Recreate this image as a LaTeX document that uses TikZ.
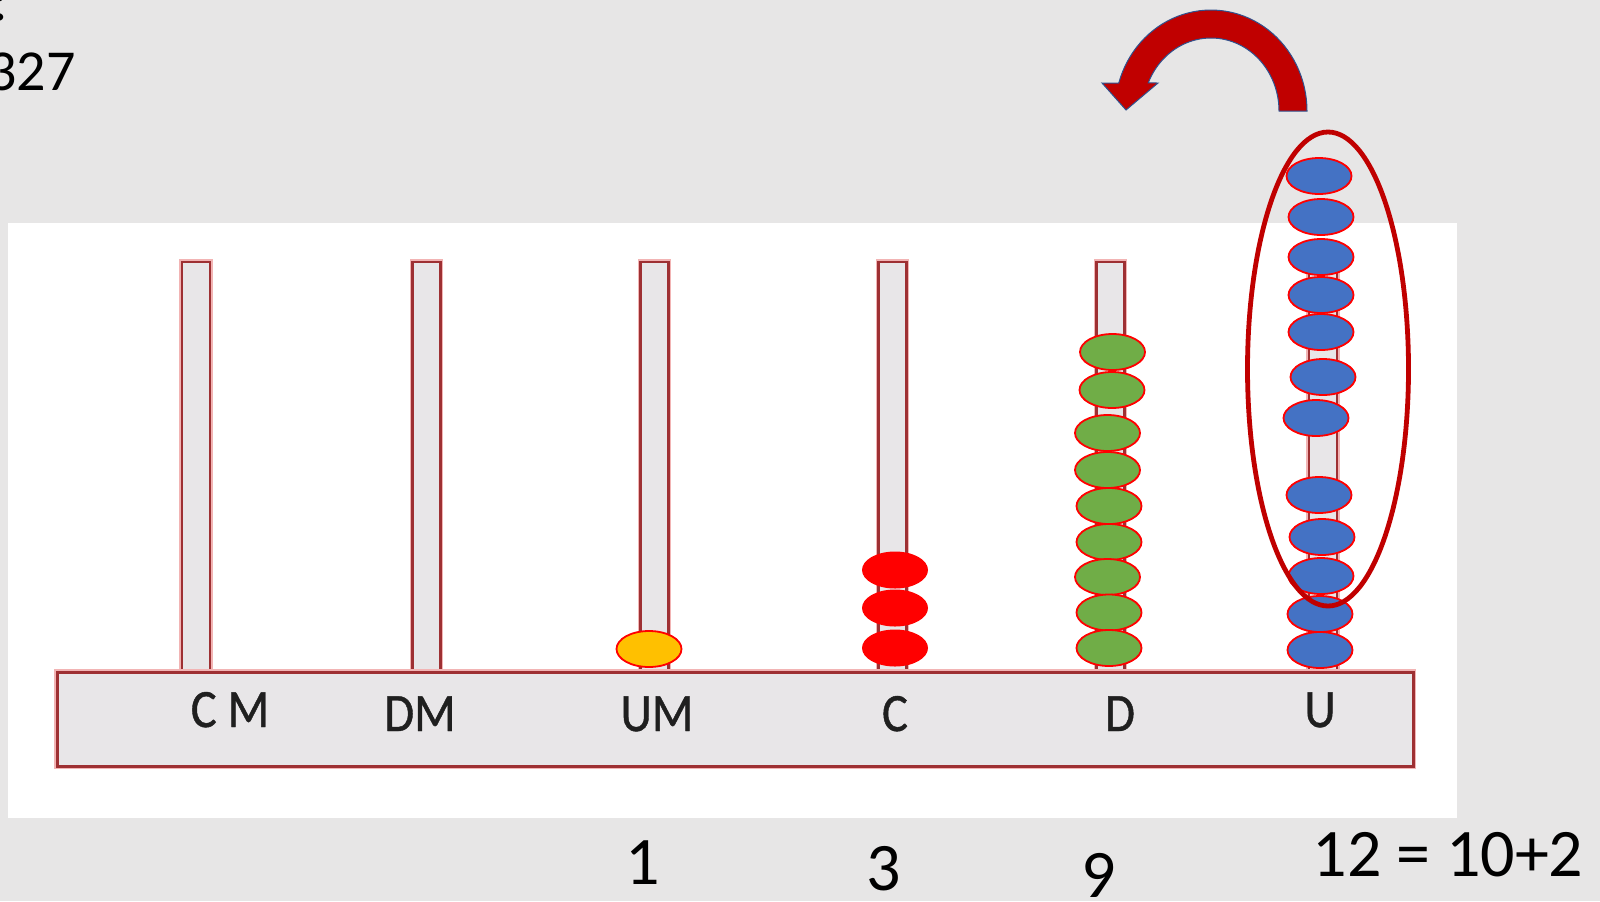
\documentclass[tikz,border=0pt]{standalone}
\usepackage{fontspec}
\setmainfont{Carlito}
\newfontfamily\barfont[FakeBold=0.8,FakeStretch=0.9]{Carlito}
\definecolor{bg}{HTML}{E7E6E6}
\definecolor{rodfill}{HTML}{E8E6E8}
\definecolor{rodline}{HTML}{9E3033}
\definecolor{rodglow}{HTML}{F2B4B4}
\definecolor{beadblue}{HTML}{4472C4}
\definecolor{beadgreen}{HTML}{70AD47}
\definecolor{beadyellow}{HTML}{FFC000}
\definecolor{beadred}{HTML}{FF0000}
\definecolor{darkred}{HTML}{C00000}
\definecolor{arrowedge}{HTML}{2F528F}
\tikzset{
  glowline/.style={draw=rodglow, line width=2.6pt, line join=miter},
  rodbox/.style={fill=rodfill, draw=rodline, line width=1.3pt, line join=miter},
  basebar/.style={fill=rodfill, draw=rodline, line width=1.5pt},
  bluebead/.style={fill=beadblue, draw=beadred, line width=0.9pt},
  greenbead/.style={fill=beadgreen, draw=beadred, line width=0.9pt},
  yellowbead/.style={fill=beadyellow, draw=beadred, line width=0.9pt},
  redbead/.style={fill=beadred},
  ring/.style={draw=darkred, line width=2.4pt},
  bendarrow/.style={fill=darkred, draw=arrowedge, line width=0.5pt},
  lbl/.style={font=\barfont\fontsize{27}{32}\selectfont, text=black!88, anchor=base, inner sep=0pt},
  num/.style={font=\fontsize{34}{40}\selectfont, anchor=base, inner sep=0pt},
  toptext/.style={font=\fontsize{29}{35}\selectfont, inner sep=0pt},
}
\begin{document}
\begin{tikzpicture}[x=0.5pt,y=-0.5pt]
\useasboundingbox (0,0) rectangle (1600,901);
\clip (0,0) rectangle (1600,901);
\fill[bg] (0,0) rectangle (1600,901);
\fill[white] (8,223) rectangle (1457,818);

% text at the top left, running off the edge
\node[toptext, anchor=base west] (t1) at (-8,20) {:};
\node[toptext, anchor=base east] (t2) at (76,90) {327};

% rods
\foreach \cx in {196,426.5,654.5,892.5,1110.5,1323} {
  \draw[glowline] (\cx-14,672) -- (\cx-14,262) -- (\cx+14,262) -- (\cx+14,672);
  \filldraw[rodbox] (\cx-14,672) -- (\cx-14,262) -- (\cx+14,262) -- (\cx+14,672);
}

% base bar
\draw[draw=rodglow, line width=3pt] (57,672) rectangle (1413,766);
\draw[basebar] (57,672) rectangle (1413,766);

% place-value labels
\node[lbl] (lcm) at (230,727) {C M};
\node[lbl] (ldm) at (420,731) {DM};
\node[lbl] (lum) at (657,731) {UM};
\node[lbl] (lc)  at (895,731) {C};
\node[lbl] (ld)  at (1120,731) {D};
\node[lbl] (lu)  at (1320,727) {U};

% thousands: one bead
\filldraw[yellowbead] (649,649) ellipse [x radius=32.5, y radius=18];

% hundreds: three beads
\foreach \y in {570,608,648}
  \fill[redbead] (895,\y) ellipse [x radius=33, y radius=18.5];

% tens: nine beads
\foreach \x/\y in {1112.5/352,1112/390,1107.5/433,1107.5/470,1109/506,1109/542,1107.5/577,1109/612.5,1109/648}
  \filldraw[greenbead] (\x,\y) ellipse [x radius=32.5, y radius=18];

% units: twelve beads
\foreach \x/\y in {1319/176,1321/217,1321/257,1321/295,1321/332,1323/377,1316/418,1319/495,1322/537,1321/576,1320/614,1320/650}
  \filldraw[bluebead] (\x,\y) ellipse [x radius=32.5, y radius=18];

% ten units grouped
\draw[ring] (1328,369) ellipse [x radius=80.5, y radius=237];

% exchange arrow
\filldraw[bendarrow] (1307,111)
  -- plot[domain=0:164, samples=50] ({1211+96*cos(\x)},{111-101*sin(\x)})
  -- (1102,83) -- (1126,110) -- (1158,83)
  -- plot[domain=157.4:0, samples=50] ({1211+68*cos(\x)},{111-73*sin(\x)})
  -- cycle;

% digits below
\node[num] (n1) at (643,884) {1};
\node[num] (n3) at (884,890) {3};
\node[num] (n9) at (1099,897) {9};
\node[num] (n12) at (1448,876) {12 = 10+2};
\end{tikzpicture}
\end{document}
